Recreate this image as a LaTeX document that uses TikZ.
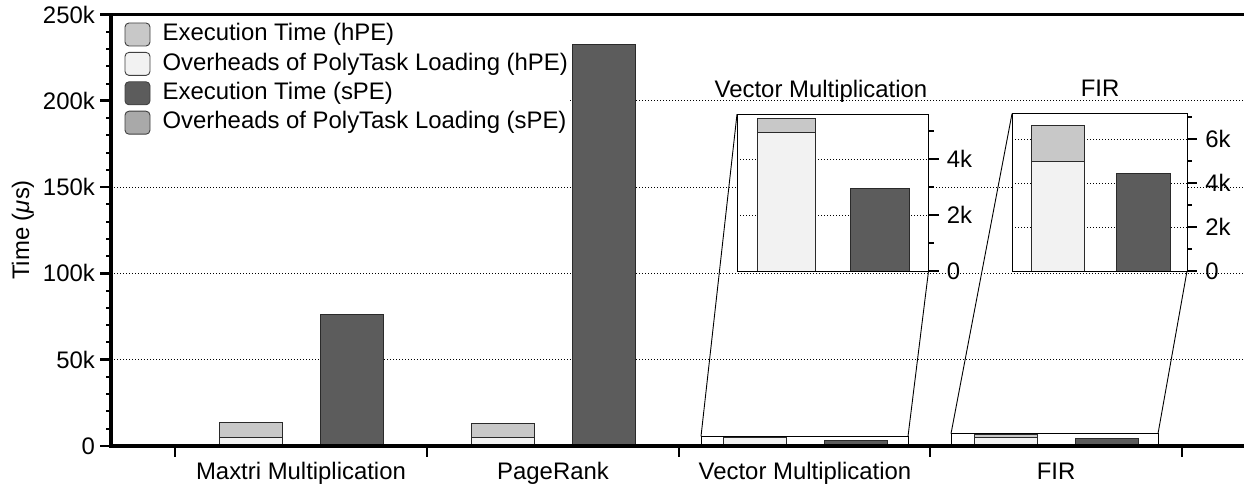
\documentclass[tikz,border=0pt]{standalone}
\usepackage{fontspec}
\setmainfont{Liberation Sans}
\usetikzlibrary{positioning}
\definecolor{execHpe}{HTML}{C8C8C8}
\definecolor{ovhHpe}{HTML}{F2F2F2}
\definecolor{execSpe}{HTML}{5C5C5C}
\definecolor{ovhSpe}{HTML}{A9A9A9}
\definecolor{barEdge}{HTML}{2A2A2A}
\newcommand{\fnt}{\fontsize{23.9pt}{28pt}\selectfont}
\tikzset{
  axis line/.style ={draw=black,line width=3.3pt},
  major tick/.style={draw=black,line width=2.6pt},
  minor tick/.style={draw=black,line width=2pt},
  grid dots/.style ={draw=black,line width=0.9pt,dash pattern=on 1pt off 2pt},
  bar/.style       ={draw=barEdge,line width=0.9pt},
  zoom frame/.style={draw=black,line width=0.9pt},
  swatch/.style    ={draw=black!75,line width=0.9pt,rounded corners=4pt,
                     minimum width=25pt,minimum height=23pt,inner sep=0pt},
}
\newcommand{\hpeBar}[4]{%
  \filldraw[bar,fill=ovhHpe]  (#1,0)  rectangle (#2,#3);
  \filldraw[bar,fill=execHpe] (#1,#3) rectangle (#2,#4);
}
\newcommand{\speBar}[3]{%
  \filldraw[bar,fill=execSpe] (#1,0) rectangle (#2,#3);
}

\begin{document}
\begin{tikzpicture}[x=1pt,y=1pt,
          every node/.style={font=\fnt,text=black,inner sep=0pt},
        ]
        \useasboundingbox (0,0) rectangle (1244,486);
        \begin{scope}[yshift=40pt,y=1.726pt]
          \foreach \v in {50,100,150,200}
            \draw[grid dots] (111,\v) -- (1244,\v);
          \foreach \v in {10,20,...,240}
            \draw[minor tick] (106,\v) -- (111,\v);
          \foreach \v/\t in {0/0,50/50k,100/100k,150/150k,200/200k,250/250k}{
            \draw[major tick] (100,\v) -- (111,\v);
            \node[anchor=east] (ytick\v) at (95,\v) {\t};
          }
          \hpeBar{219}{282}{4.8}{13.4}
          \speBar{320}{383}{76.4}
          \hpeBar{471}{534}{4.8}{13.1}
          \speBar{572}{635}{232.9}
          \hpeBar{723}{786}{4.94}{5.46}
          \speBar{824}{887}{2.94}
          \hpeBar{974}{1037}{5.0}{6.6}
          \speBar{1075}{1138}{4.44}
          \draw[zoom frame] (701,0) rectangle (908,5.6);
          \coordinate (vmSpotNW) at (701,5.6);
          \coordinate (vmSpotNE) at (908,5.6);
          \draw[zoom frame] (951,0) rectangle (1158,7.15);
          \coordinate (firSpotNW) at (951,7.15);
          \coordinate (firSpotNE) at (1158,7.15);
          \draw[axis line] (111,250) -- (111,0) -- (1244,0);
          \draw[axis line] (111,250) -- (1244,250);
          \foreach \x in {175,427,679,930,1182}
            \draw[major tick] (\x,0) -- ++(0,-11pt);
        \end{scope}
        \node[rotate=90] (yLabel) at (23,256) {Time ({\itshape μ}s)};
        \node[anchor=base] (catMaxtri) at (301,6)  {Maxtri Multiplication};
        \node[anchor=base] (catPage)   at (553,6)  {PageRank};
        \node[anchor=base] (catVec)    at (805,6)  {Vector Multiplication};
        \node[anchor=base] (catFir)    at (1056,6) {FIR};
        \fill[white] (114,350) rectangle (570,468);
        \node[swatch,fill=execHpe] (lg1) at (137.5,451.5) {};
        \node[swatch,fill=ovhHpe,below=5.5pt of lg1] (lg2) {};
        \node[swatch,fill=execSpe,below=5.5pt of lg2] (lg3) {};
        \node[swatch,fill=ovhSpe,below=5.5pt of lg3]  (lg4) {};
        \node[right=12pt of lg1] (lgt1) {Execution Time (hPE)};
        \node[right=12pt of lg2] (lgt2) {Overheads of PolyTask Loading (hPE)};
        \node[right=12pt of lg3] (lgt3) {Execution Time (sPE)};
        \node[right=12pt of lg4] (lgt4) {Overheads of PolyTask Loading (sPE)};
        \begin{scope}[shift={(737pt,215pt)},x=191.5pt,y=28pt]
          \fill[white] (0,0) rectangle (1,5.6);
          \foreach \v in {2,4}
            \draw[grid dots] (0,\v) -- (1,\v);
          \hpeBar{0.106}{0.411}{4.94}{5.46}
          \speBar{0.594}{0.899}{2.94}
          \draw[zoom frame] (0,0) rectangle (1,5.6);
          \coordinate (vmBoxNW) at (0,5.6);
          \coordinate (vmBoxSE) at (1,0);
          \foreach \v in {1,3,5}
            \draw[minor tick] (1,\v) -- ++(5pt,0);
          \foreach \v/\t in {0/0,2/2k,4/4k}
            \draw[major tick] (1,\v) -- ++(10pt,0)
              node[anchor=west,xshift=7pt] {\t};
        \end{scope}
        \begin{scope}[shift={(1012pt,215pt)},x=175pt,y=22pt]
          \fill[white] (0,0) rectangle (1,7.15);
          \foreach \v in {2,4,6}
            \draw[grid dots] (0,\v) -- (1,\v);
          \hpeBar{0.111}{0.415}{5.0}{6.6}
          \speBar{0.599}{0.903}{4.44}
          \draw[zoom frame] (0,0) rectangle (1,7.15);
          \coordinate (firBoxNW) at (0,7.15);
          \coordinate (firBoxSE) at (1,0);
          \foreach \v in {1,3,5,7}
            \draw[minor tick] (1,\v) -- ++(5pt,0);
          \foreach \v/\t in {0/0,2/2k,4/4k,6/6k}
            \draw[major tick] (1,\v) -- ++(10pt,0)
              node[anchor=west,xshift=7pt] {\t};
        \end{scope}
        \draw[zoom frame] (vmSpotNW) -- (vmBoxNW);
        \draw[zoom frame] (vmSpotNE) -- (vmBoxSE);
        \draw[zoom frame] (firSpotNW) -- (firBoxNW);
        \draw[zoom frame] (firSpotNE) -- (firBoxSE);
        \node[anchor=base] (vmTitle)  at (821,388)  {Vector Multiplication};
        \node[anchor=base] (firTitle) at (1100,389) {FIR};
      \end{tikzpicture}
\end{document}
